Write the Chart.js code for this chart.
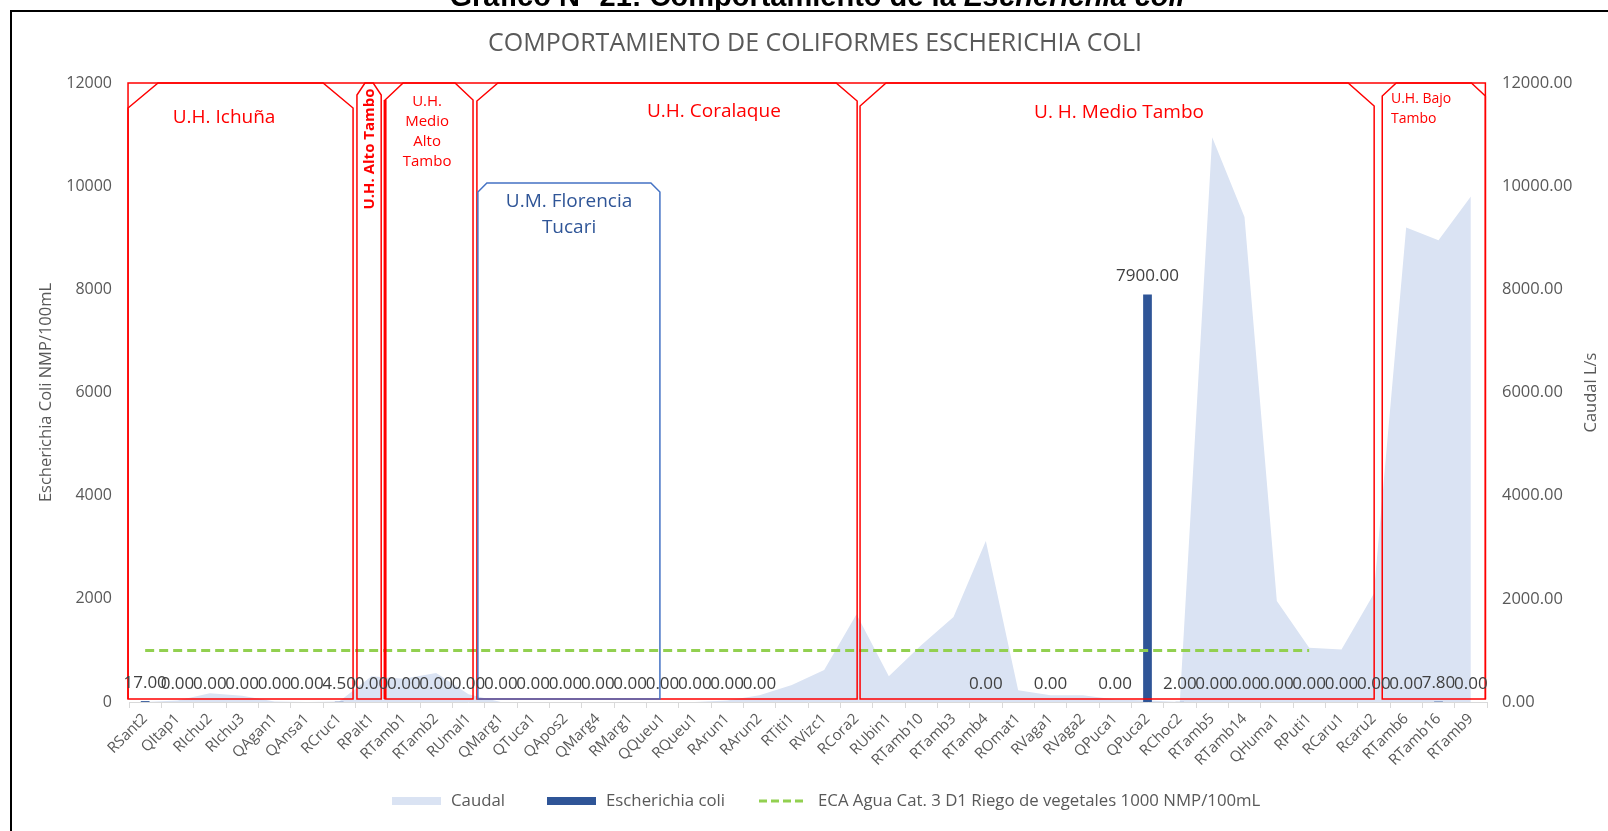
<!DOCTYPE html>
<html lang="es">
<head>
<meta charset="utf-8">
<title>Comportamiento de coliformes Escherichia coli</title>
<script src="https://cdn.jsdelivr.net/npm/chart.js@4.4.0/dist/chart.umd.min.js"></script>
<style>
    html, body { margin: 0; padding: 0; background: #fff; }
    #page { position: relative; width: 1608px; height: 831px; overflow: hidden; }
    #docTitle {
        position: absolute; top: -18px; left: 817px; transform: translateX(-50%);
        font: bold 29px "Liberation Sans", Arial, sans-serif; color: #000; white-space: nowrap;
        line-height: 29px;
    }
    #frame {
        position: absolute; left: 10px; top: 10px; width: 1610px; height: 840px;
        border-top: 2px solid #000; border-left: 2px solid #000; pointer-events: none;
    }
    #chart { position: absolute; left: 0; top: 0; }
</style>
</head>
<body>
<div id="page">
    <canvas id="chart" width="1608" height="831"></canvas>
    <div id="docTitle">Gráfico N° 21: Comportamiento de la <i>Escherichia coli</i></div>
    <div id="frame"></div>
</div>

<script>
// ============================================================
// Coliformes Escherichia coli vs caudal por estación
// ============================================================

const FONT = '"Open Sans", "Noto Sans", sans-serif';
const GRIS = '#595959';

// ── Datos ────────────────────────────────────────────────
const estaciones = [
    'RSant2', 'QItap1', 'RIchu2', 'RIchu3', 'QAgan1', 'QAnsa1', 'RCruc1', 'RPalt1',
    'RTamb1', 'RTamb2', 'RUmal1', 'QMarg1', 'QTuca1', 'QApos2', 'QMarg4', 'RMarg1',
    'QQueu1', 'RQueu1', 'RArun1', 'RArun2', 'RTiti1', 'RVizc1', 'RCora2', 'RUbin1',
    'RTamb10', 'RTamb3', 'RTamb4', 'ROmat1', 'RVaga1', 'RVaga2', 'QPuca1', 'QPuca2',
    'RChoc2', 'RTamb5', 'RTamb14', 'QHuma1', 'RPuti1', 'RCaru1', 'Rcaru2', 'RTamb6',
    'RTamb16', 'RTamb9'
];

// Caudal L/s (eje derecho)
const caudal = [
    0, 30, 170, 120, 10, 0, 10, 500,
    450, 560, 150, 0, 0, 0, 0, 0,
    0, 0, 30, 130, 330, 620, 1700, 500,
    1100, 1650, 3120, 230, 130, 130, 50, 30,
    0, 10950, 9400, 1960, 1050, 1020, 2100, 9200,
    8950, 9800
];

// Escherichia coli NMP/100mL (null = sin muestra)
const ecoli = [
    17, 0, 0, 0, 0, 0, 4.5, 0,
    0, 0, 0, 0, 0, 0, 0, 0,
    0, 0, 0, 0, null, null, null, null,
    null, null, 0, null, 0, null, 0, 7900,
    2, 0, 0, 0, 0, 0, 0, 0,
    7.8, 0
];

// ECA Agua Cat. 3 D1 (1000 NMP/100mL)
const eca = [
    1000, 1000, 1000, 1000, 1000, 1000, 1000, 1000,
    1000, 1000, 1000, 1000, 1000, 1000, 1000, 1000,
    1000, 1000, 1000, 1000, 1000, 1000, 1000, 1000,
    1000, 1000, 1000, 1000, 1000, 1000, 1000, 1000,
    1000, 1000, 1000, 1000, 1000, null, null, null,
    null, null
];

const yTicks = [0, 2000, 4000, 6000, 8000, 10000, 12000];

// ── Unidades hidrográficas (en unidades de categoría) ────
const zonas = [
    { from: -0.53, to: 6.43,  snip: [30, 25] },
    { from: 6.55,  to: 7.30,  snip: [8, 12] },
    { from: 7.42,  to: 10.14, snip: [18, 17], leftWidth: 3 },
    { from: 10.26, to: 22.02, snip: [21, 18] },
    { from: 22.11, to: 38.01, snip: [26, 23] },
    { from: 38.26, to: 41.45, snip: [14, 13] },
];
const florencia = { from: 10.29, to: 15.92, top: 10060, snip: [9, 9] };

const rotulos = [
    { lines: ['U.H. Ichuña'], x: 2.44, dy: 35, size: 19 },
    { lines: ['U.H. Alto Tambo'], x: 6.95, dy: 66, size: 15, bold: true, vertical: true },
    { lines: ['U.H.', 'Medio', 'Alto', 'Tambo'], x: 8.72, dy: 19, size: 15, lh: 20 },
    { lines: ['U.H. Coralaque'], x: 17.59, dy: 29, size: 19 },
    { lines: ['U. H. Medio Tambo'], x: 30.12, dy: 30, size: 19 },
    { lines: ['U.H. Bajo', 'Tambo'], x: 38.53, dy: 16, size: 14, lh: 20, align: 'left' },
];

// leyenda: posición izquierda de cada muestra
const leyenda = [
    { text: 'Caudal', kind: 'box', color: '#DAE3F3', x: 392 },
    { text: 'Escherichia coli', kind: 'box', color: '#2F5597', x: 547 },
    { text: 'ECA Agua Cat. 3 D1 Riego de vegetales 1000 NMP/100mL', kind: 'dash', color: '#92D050', x: 759 },
];

// ── Helpers de dibujo ────────────────────────────────────
function snipPath(ctx, l, t, r, b, sx, sy) {
    sx = Math.min(sx, (r - l) / 2 - 2);
    ctx.beginPath();
    ctx.moveTo(l, b);
    ctx.lineTo(l, t + sy);
    ctx.lineTo(l + sx, t);
    ctx.lineTo(r - sx, t);
    ctx.lineTo(r, t + sy);
    ctx.lineTo(r, b);
    ctx.closePath();
}

const zonasPlugin = {
    id: 'zonas',
    afterDatasetsDraw(chart) {
        const { ctx, scales: { x, y } } = chart;
        const top = y.getPixelForValue(12000);
        const bottom = y.getPixelForValue(60);
        ctx.save();

        // marco superior común
        const L = x.getPixelForValue(zonas[0].from);
        const R = x.getPixelForValue(zonas[zonas.length - 1].to);
        ctx.strokeStyle = '#FF0000';
        ctx.lineWidth = 1.5;
        ctx.beginPath();
        ctx.moveTo(L, bottom); ctx.lineTo(L, top); ctx.lineTo(R, top); ctx.lineTo(R, bottom);
        ctx.stroke();

        zonas.forEach(z => {
            const l = x.getPixelForValue(z.from), r = x.getPixelForValue(z.to);
            snipPath(ctx, l, top, r, bottom, z.snip[0], z.snip[1]);
            ctx.lineWidth = 1.5;
            ctx.stroke();
            if (z.leftWidth) {
                ctx.lineWidth = z.leftWidth;
                ctx.beginPath(); ctx.moveTo(l, bottom); ctx.lineTo(l, top + z.snip[1]); ctx.stroke();
            }
        });

        // U.M. Florencia Tucari
        const fl = x.getPixelForValue(florencia.from), fr = x.getPixelForValue(florencia.to);
        const ft = y.getPixelForValue(florencia.top);
        ctx.strokeStyle = '#4472C4';
        ctx.lineWidth = 1.5;
        snipPath(ctx, fl, ft, fr, bottom, florencia.snip[0], florencia.snip[1]);
        ctx.stroke();

        ctx.fillStyle = '#2F5597';
        ctx.textAlign = 'center';
        ctx.textBaseline = 'middle';
        ctx.font = `19px ${FONT}`;
        const fcx = x.getPixelForValue(13.11);
        ctx.fillText('U.M. Florencia', fcx, ft + 19);
        ctx.fillText('Tucari', fcx, ft + 45);

        // nombres de unidades
        ctx.fillStyle = '#FF0000';
        rotulos.forEach(r => {
            ctx.font = `${r.bold ? 'bold ' : ''}${r.size}px ${FONT}`;
            const px = x.getPixelForValue(r.x);
            if (r.vertical) {
                ctx.save();
                ctx.translate(px, top + r.dy);
                ctx.rotate(-Math.PI / 2);
                ctx.textAlign = 'center';
                ctx.fillText(r.lines[0], 0, 0);
                ctx.restore();
                return;
            }
            ctx.textAlign = r.align || 'center';
            r.lines.forEach((t, i) => ctx.fillText(t, px, top + r.dy + i * (r.lh || 0)));
        });
        ctx.restore();
    }
};

const etiquetasPlugin = {
    id: 'etiquetas',
    afterDatasetsDraw(chart) {
        const { ctx } = chart;
        const meta = chart.getDatasetMeta(1);
        ctx.save();
        ctx.font = `17px ${FONT}`;
        ctx.fillStyle = '#404040';
        ctx.textAlign = 'center';
        ctx.textBaseline = 'middle';
        meta.data.forEach((bar, i) => {
            const v = ecoli[i];
            if (v === null) return;
            ctx.fillText(v.toFixed(2), bar.x, bar.y - 18);
        });
        ctx.restore();
    }
};

const marcoPlugin = {
    id: 'marco',
    afterDraw(chart) {
        const { ctx, chartArea: a } = chart;
        ctx.save();
        ctx.fillStyle = GRIS;
        ctx.textAlign = 'center';
        ctx.textBaseline = 'middle';

        // título
        ctx.font = `25px ${FONT}`;
        ctx.fillText('COMPORTAMIENTO DE COLIFORMES ESCHERICHIA COLI', (a.left + a.right) / 2 + 7, 44);

        // títulos de ejes
        ctx.font = `16.5px ${FONT}`;
        const my = (a.top + a.bottom) / 2;
        [[a.left - 83, 'Escherichia Coli NMP/100mL'], [a.right + 104, 'Caudal L/s']].forEach(([tx, t]) => {
            ctx.save();
            ctx.translate(tx, my);
            ctx.rotate(-Math.PI / 2);
            ctx.fillText(t, 0, 0);
            ctx.restore();
        });

        // leyenda
        ctx.textAlign = 'left';
        ctx.font = `16.8px ${FONT}`;
        const ly = 801;
        leyenda.forEach(it => {
            if (it.kind === 'box') {
                ctx.fillStyle = it.color;
                ctx.fillRect(it.x, ly - 4, 49, 8);
            } else {
                ctx.strokeStyle = it.color;
                ctx.lineWidth = 3;
                ctx.setLineDash([8, 4]);
                ctx.beginPath(); ctx.moveTo(it.x, ly); ctx.lineTo(it.x + 47, ly); ctx.stroke();
                ctx.setLineDash([]);
            }
            ctx.fillStyle = GRIS;
            ctx.fillText(it.text, it.x + 59, ly);
        });
        ctx.restore();
    }
};

// ── Gráfico ───────────────────────────────────────────────
Chart.defaults.font.family = FONT;
Chart.defaults.color = GRIS;

new Chart(document.getElementById('chart'), {
    type: 'bar',
    data: {
        labels: estaciones,
        datasets: [
            {
                type: 'line',
                label: 'Caudal',
                data: caudal,
                yAxisID: 'y1',
                fill: 'origin',
                backgroundColor: '#DAE3F3',
                borderWidth: 0,
                pointRadius: 0,
                tension: 0,
                order: 3,
            },
            {
                type: 'bar',
                label: 'Escherichia coli',
                data: ecoli,
                yAxisID: 'y',
                backgroundColor: '#2F5597',
                barPercentage: 0.27,
                categoryPercentage: 1,
                order: 2,
            },
            {
                type: 'line',
                label: 'ECA Agua Cat. 3 D1 Riego de vegetales 1000 NMP/100mL',
                data: eca,
                yAxisID: 'y',
                borderColor: '#92D050',
                borderWidth: 3,
                borderDash: [9, 5],
                pointRadius: 0,
                fill: false,
                order: 1,
            },
        ],
    },
    options: {
        responsive: false,
        animation: false,
        devicePixelRatio: 1,
        layout: { padding: { top: 83, left: 0, right: 0, bottom: 0 } },
        plugins: {
            legend: { display: false },
            title: { display: false },
            tooltip: { enabled: false },
        },
        scales: {
            x: {
                offset: true,
                grid: { offset: true, drawOnChartArea: false, drawTicks: true, tickLength: 6, color: '#D9D9D9' },
                border: { display: true, color: '#D9D9D9' },
                ticks: { autoSkip: false, minRotation: 45, maxRotation: 45, padding: 2, color: GRIS, font: { size: 15 } },
                afterFit: s => { s.height = 129; },
            },
            y: {
                position: 'left',
                min: 0, max: 12000,
                afterBuildTicks: s => { s.ticks = yTicks.map(v => ({ value: v })); },
                ticks: { padding: 17, color: GRIS, font: { size: 16 }, callback: v => String(v) },
                grid: { display: false, drawTicks: false },
                border: { display: false },
                afterFit: s => { s.width = 129; },
            },
            y1: {
                position: 'right',
                min: 0, max: 12000,
                afterBuildTicks: s => { s.ticks = yTicks.map(v => ({ value: v })); },
                ticks: { padding: 15, color: GRIS, font: { size: 16.5 }, callback: v => Number(v).toFixed(2) },
                grid: { display: false, drawTicks: false },
                border: { display: false },
                afterFit: s => { s.width = 121; },
            },
        },
    },
    plugins: [zonasPlugin, etiquetasPlugin, marcoPlugin],
});
</script>
</body>
</html>
